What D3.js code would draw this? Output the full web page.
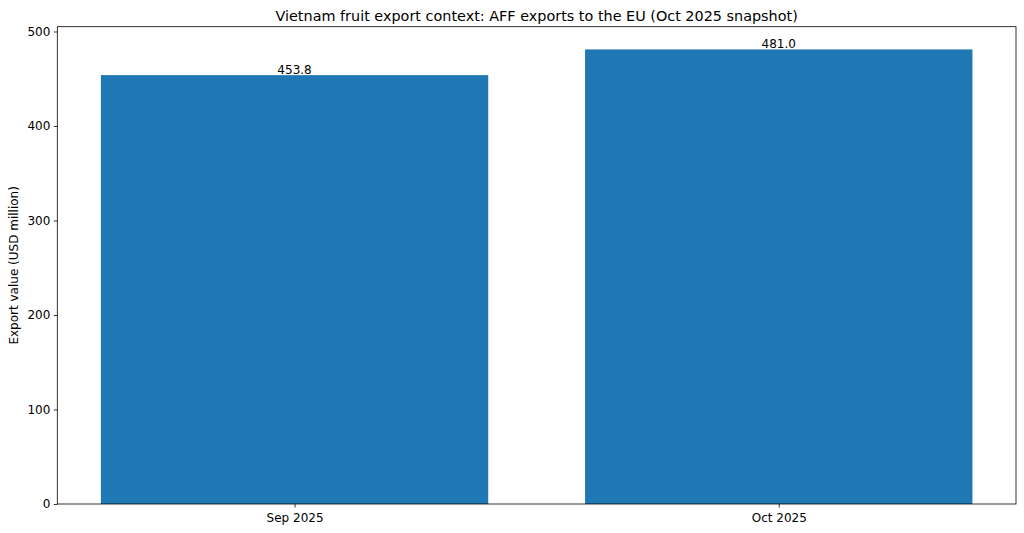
<!DOCTYPE html>
<html><head><meta charset="utf-8">
<script src="https://cdn.jsdelivr.net/npm/d3@7"></script>
<style>body{margin:0;background:#fff}svg{display:block}text{font-family:"DejaVu Sans",sans-serif;fill:#000}</style>
</head><body>
<svg id="c" width="1024" height="533"></svg>
<script>
const categories = ["Sep 2025", "Oct 2025"];
const values = [453.8, 481.0];
const yTicks = [0, 100, 200, 300, 400, 500];
const titleText = "Vietnam fruit export context: AFF exports to the EU (Oct 2025 snapshot)";
const yLabel = "Export value (USD million)";

const svg = d3.select("#c");
const L = 57.3, R = 1016, T = 26.7, B = 504;
const x = d3.scaleLinear().domain([-0.49, 1.49]).range([L, R]);
const y = d3.scaleLinear().domain([0, 505.05]).range([B, T]);
const color = "#1f77b4";
const fs = 12;

svg.selectAll("rect.bar").data(values).join("rect").attr("class","bar")
  .attr("x",(d,i)=>x(i-0.4)).attr("width",(d,i)=>x(i+0.4)-x(i-0.4))
  .attr("y",d=>y(d)).attr("height",d=>y(0)-y(d)).attr("fill",color);

svg.selectAll("text.val").data(values).join("text").attr("class","val")
  .attr("x",(d,i)=>x(i)).attr("y",d=>y(d)-1).attr("text-anchor","middle")
  .attr("font-size",fs).text(d=>d.toFixed(1));

const yAxis = d3.axisLeft(y).tickValues(yTicks).tickSize(3.5).tickPadding(3.5).tickFormat(d3.format("d"));
const gy = svg.append("g").attr("transform",`translate(${L},0)`).call(yAxis);
const xAxis = d3.axisBottom(x).tickValues([0,1]).tickSize(3.5).tickPadding(5.5).tickFormat(i=>categories[i]);
const gx = svg.append("g").attr("transform",`translate(0,${B})`).call(xAxis);
[gx,gy].forEach(g=>{g.select(".domain").remove();g.selectAll("text").attr("font-size",fs).attr("font-family","DejaVu Sans").attr("fill","#000");g.selectAll("line").attr("stroke","#000").attr("stroke-width",0.8);});

svg.append("rect").attr("x",L).attr("y",T).attr("width",R-L).attr("height",B-T)
  .attr("fill","none").attr("stroke","#000").attr("stroke-width",0.8);

svg.append("text").attr("x",(L+R)/2).attr("y",21).attr("text-anchor","middle").attr("font-size",14.4).text(titleText);
svg.append("text").attr("transform",`translate(18,${(T+B)/2}) rotate(-90)`).attr("text-anchor","middle").attr("font-size",fs).text(yLabel);
</script>
</body></html>
